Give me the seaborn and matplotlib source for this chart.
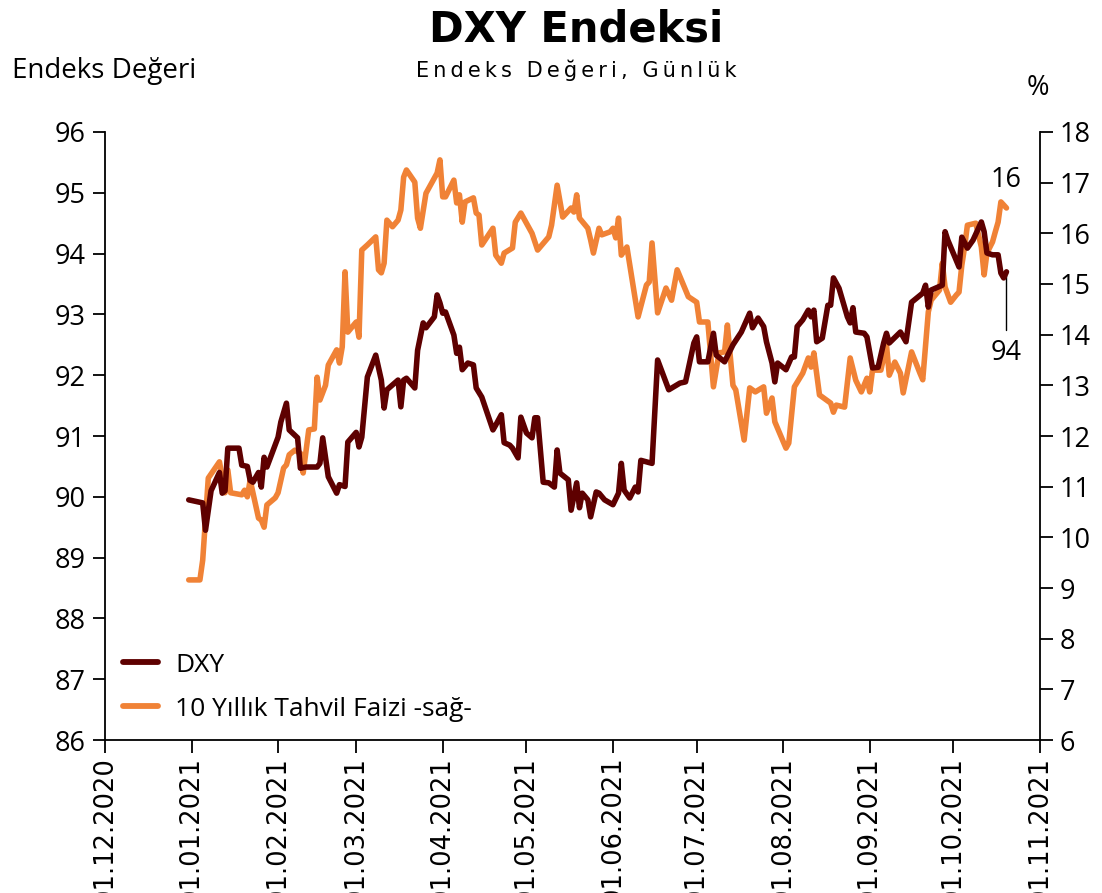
import pandas as pd
import matplotlib
matplotlib.use("Agg")
import matplotlib.pyplot as plt
import matplotlib.dates as mdates
from matplotlib.lines import Line2D
import seaborn as sns

# DXY index, daily
dxy_dates = ["2020-12-31", "2021-01-05", "2021-01-06", "2021-01-08", "2021-01-10", "2021-01-11",
             "2021-01-12", "2021-01-13", "2021-01-14", "2021-01-18", "2021-01-19", "2021-01-21",
             "2021-01-22", "2021-01-23", "2021-01-25", "2021-01-26", "2021-01-27", "2021-01-28",
             "2021-02-01", "2021-02-02", "2021-02-04", "2021-02-05", "2021-02-08", "2021-02-09",
             "2021-02-11", "2021-02-15", "2021-02-16", "2021-02-17", "2021-02-19", "2021-02-22",
             "2021-02-23", "2021-02-25", "2021-02-26", "2021-03-01", "2021-03-02", "2021-03-03",
             "2021-03-05", "2021-03-08", "2021-03-10", "2021-03-11", "2021-03-12", "2021-03-16",
             "2021-03-17", "2021-03-18", "2021-03-19", "2021-03-22", "2021-03-23", "2021-03-25",
             "2021-03-26", "2021-03-29", "2021-03-30", "2021-03-31", "2021-04-01", "2021-04-02",
             "2021-04-05", "2021-04-06", "2021-04-07", "2021-04-08", "2021-04-10", "2021-04-12",
             "2021-04-13", "2021-04-15", "2021-04-19", "2021-04-20", "2021-04-22", "2021-04-23",
             "2021-04-25", "2021-04-26", "2021-04-28", "2021-04-29", "2021-05-01", "2021-05-03",
             "2021-05-04", "2021-05-05", "2021-05-07", "2021-05-09", "2021-05-11", "2021-05-12",
             "2021-05-13", "2021-05-16", "2021-05-17", "2021-05-19", "2021-05-20", "2021-05-21",
             "2021-05-23", "2021-05-24", "2021-05-26", "2021-05-27", "2021-05-29", "2021-06-01",
             "2021-06-03", "2021-06-04", "2021-06-05", "2021-06-07", "2021-06-09", "2021-06-10",
             "2021-06-11", "2021-06-15", "2021-06-17", "2021-06-21", "2021-06-25", "2021-06-27",
             "2021-06-30", "2021-07-01", "2021-07-02", "2021-07-05", "2021-07-07", "2021-07-08",
             "2021-07-11", "2021-07-14", "2021-07-17", "2021-07-20", "2021-07-21", "2021-07-23",
             "2021-07-25", "2021-07-26", "2021-07-28", "2021-07-29", "2021-07-30", "2021-08-02",
             "2021-08-04", "2021-08-05", "2021-08-06", "2021-08-08", "2021-08-10", "2021-08-11",
             "2021-08-12", "2021-08-13", "2021-08-15", "2021-08-17", "2021-08-18", "2021-08-19",
             "2021-08-21", "2021-08-24", "2021-08-25", "2021-08-26", "2021-08-27", "2021-08-30",
             "2021-08-31", "2021-09-02", "2021-09-04", "2021-09-06", "2021-09-07", "2021-09-08",
             "2021-09-12", "2021-09-14", "2021-09-16", "2021-09-20", "2021-09-21", "2021-09-22",
             "2021-09-23", "2021-09-27", "2021-09-28", "2021-09-29", "2021-10-03", "2021-10-04",
             "2021-10-06", "2021-10-08", "2021-10-11", "2021-10-12", "2021-10-13", "2021-10-15",
             "2021-10-17", "2021-10-18", "2021-10-19", "2021-10-20"]
dxy_values = [89.95, 89.90, 89.45, 90.10, 90.30, 90.40, 90.06, 90.10, 90.80, 90.80, 90.52, 90.50,
              90.27, 90.24, 90.40, 90.16, 90.65, 90.49, 90.98, 91.23, 91.54, 91.10, 90.97, 90.47,
              90.49, 90.49, 90.55, 90.97, 90.33, 90.06, 90.20, 90.17, 90.90, 91.06, 90.82, 90.98,
              91.97, 92.33, 91.92, 91.46, 91.76, 91.92, 91.48, 91.92, 91.95, 91.79, 92.41, 92.86,
              92.78, 92.96, 93.32, 93.19, 93.02, 93.04, 92.66, 92.36, 92.46, 92.09, 92.20, 92.17,
              91.79, 91.64, 91.10, 91.18, 91.35, 90.89, 90.85, 90.80, 90.64, 91.31, 91.05, 90.97,
              91.30, 91.30, 90.24, 90.23, 90.16, 90.77, 90.39, 90.28, 89.78, 90.23, 89.82, 90.06,
              89.95, 89.67, 90.08, 90.06, 89.95, 89.87, 90.06, 90.55, 90.11, 89.98, 90.16, 90.08,
              90.60, 90.55, 92.25, 91.76, 91.87, 91.89, 92.53, 92.63, 92.22, 92.22, 92.69, 92.33,
              92.22, 92.50, 92.71, 93.02, 92.78, 92.94, 92.80, 92.55, 92.20, 91.89, 92.20, 92.09,
              92.30, 92.30, 92.80, 92.91, 93.07, 92.96, 93.07, 92.55, 92.61, 93.15, 93.15, 93.60,
              93.43, 92.96, 92.86, 93.11, 92.71, 92.69, 92.63, 92.12, 92.13, 92.53, 92.69, 92.53,
              92.71, 92.55, 93.20, 93.35, 93.48, 93.12, 93.40, 93.48, 94.36, 94.22, 93.78, 94.27,
              94.09, 94.22, 94.52, 94.36, 94.01, 93.98, 93.98, 93.68, 93.60, 93.70]

# 10-year bond yield, % (right axis)
yield_dates = ["2020-12-31", "2021-01-04", "2021-01-05", "2021-01-07", "2021-01-11", "2021-01-13",
               "2021-01-14", "2021-01-15", "2021-01-19", "2021-01-20", "2021-01-21", "2021-01-22",
               "2021-01-25", "2021-01-26", "2021-01-27", "2021-01-28", "2021-01-31", "2021-02-01",
               "2021-02-03", "2021-02-04", "2021-02-05", "2021-02-07", "2021-02-09", "2021-02-10",
               "2021-02-12", "2021-02-14", "2021-02-15", "2021-02-16", "2021-02-18", "2021-02-19",
               "2021-02-22", "2021-02-23", "2021-02-24", "2021-02-25", "2021-02-26", "2021-03-01",
               "2021-03-02", "2021-03-03", "2021-03-05", "2021-03-08", "2021-03-09", "2021-03-10",
               "2021-03-11", "2021-03-12", "2021-03-14", "2021-03-16", "2021-03-17", "2021-03-18",
               "2021-03-19", "2021-03-22", "2021-03-23", "2021-03-24", "2021-03-26", "2021-03-29",
               "2021-03-30", "2021-03-31", "2021-04-01", "2021-04-02", "2021-04-05", "2021-04-06",
               "2021-04-07", "2021-04-08", "2021-04-09", "2021-04-12", "2021-04-13", "2021-04-14",
               "2021-04-15", "2021-04-19", "2021-04-20", "2021-04-22", "2021-04-23", "2021-04-26",
               "2021-04-27", "2021-04-29", "2021-05-03", "2021-05-05", "2021-05-09", "2021-05-10",
               "2021-05-12", "2021-05-14", "2021-05-17", "2021-05-18", "2021-05-19", "2021-05-20",
               "2021-05-23", "2021-05-24", "2021-05-25", "2021-05-27", "2021-05-28", "2021-05-31",
               "2021-06-01", "2021-06-02", "2021-06-03", "2021-06-04", "2021-06-06", "2021-06-10",
               "2021-06-13", "2021-06-14", "2021-06-15", "2021-06-17", "2021-06-20", "2021-06-22",
               "2021-06-24", "2021-06-28", "2021-07-01", "2021-07-02", "2021-07-05", "2021-07-07",
               "2021-07-09", "2021-07-11", "2021-07-12", "2021-07-14", "2021-07-15", "2021-07-18",
               "2021-07-20", "2021-07-22", "2021-07-25", "2021-07-26", "2021-07-28", "2021-07-29",
               "2021-08-02", "2021-08-03", "2021-08-05", "2021-08-08", "2021-08-10", "2021-08-11",
               "2021-08-12", "2021-08-14", "2021-08-18", "2021-08-19", "2021-08-20", "2021-08-23",
               "2021-08-25", "2021-08-27", "2021-08-29", "2021-08-31", "2021-09-01", "2021-09-02",
               "2021-09-05", "2021-09-07", "2021-09-08", "2021-09-10", "2021-09-12", "2021-09-13",
               "2021-09-16", "2021-09-19", "2021-09-20", "2021-09-22", "2021-09-23", "2021-09-26",
               "2021-09-27", "2021-09-28", "2021-09-30", "2021-10-02", "2021-10-03", "2021-10-04",
               "2021-10-05", "2021-10-06", "2021-10-09", "2021-10-11", "2021-10-12", "2021-10-13",
               "2021-10-15", "2021-10-16", "2021-10-17", "2021-10-18", "2021-10-20"]
yield_values = [9.16, 9.16, 9.55, 11.17, 11.49, 10.88, 11.33, 10.88, 10.84, 10.93, 10.80, 11.13,
                10.38, 10.34, 10.20, 10.64, 10.78, 10.88, 11.37, 11.43, 11.63, 11.72, 11.66, 11.27,
                12.12, 12.14, 13.16, 12.71, 13.00, 13.40, 13.70, 13.44, 13.76, 15.24, 14.05, 14.25,
                13.95, 15.67, 15.77, 15.93, 15.28, 15.22, 15.41, 16.26, 16.13, 16.26, 16.46, 17.11,
                17.25, 17.01, 16.30, 16.10, 16.79, 17.09, 17.19, 17.45, 16.72, 16.72, 17.05, 16.60,
                16.76, 16.22, 16.62, 16.70, 16.40, 16.36, 15.77, 16.10, 15.57, 15.41, 15.61, 15.71,
                16.22, 16.40, 16.00, 15.67, 15.93, 16.16, 16.95, 16.32, 16.50, 16.42, 16.76, 16.30,
                16.10, 15.87, 15.61, 16.10, 15.97, 16.03, 16.10, 15.91, 16.30, 15.57, 15.73, 14.35,
                14.98, 15.04, 15.81, 14.43, 14.92, 14.68, 15.28, 14.75, 14.64, 14.25, 14.25, 12.97,
                13.64, 13.66, 14.19, 13.00, 12.91, 11.92, 12.95, 12.87, 12.97, 12.45, 12.75, 12.28,
                11.76, 11.86, 12.97, 13.24, 13.54, 13.36, 13.64, 12.81, 12.65, 12.47, 12.61, 12.57,
                13.54, 13.10, 12.87, 13.14, 12.87, 13.30, 13.30, 13.80, 13.20, 13.46, 13.24, 12.85,
                13.66, 13.24, 13.11, 14.45, 14.68, 14.88, 15.41, 14.94, 14.64, 14.78, 14.84, 15.37,
                15.73, 16.16, 16.20, 15.73, 15.18, 15.61, 15.83, 16.03, 16.22, 16.62, 16.50]

dxy_color = "#5e0000"
yield_color = "#f08236"

sns.set_style("ticks")
plt.rcParams["font.family"] = ["Open Sans", "DejaVu Sans"]
plt.rcParams["text.color"] = "black"
plt.rcParams["xtick.color"] = "black"
plt.rcParams["ytick.color"] = "black"

dxy_df = pd.DataFrame({"date": pd.to_datetime(dxy_dates), "value": dxy_values})
yld_df = pd.DataFrame({"date": pd.to_datetime(yield_dates), "value": yield_values})

fig = plt.figure(figsize=(11.02, 8.93), dpi=100)
ax = fig.add_axes([0.0953, 0.1713, 0.8484, 0.6809])
ax2 = ax.twinx()

sns.lineplot(data=dxy_df, x="date", y="value", ax=ax, color=dxy_color, lw=4.0, zorder=3)
sns.lineplot(data=yld_df, x="date", y="value", ax=ax2, color=yield_color, lw=4.0)
ax.set_zorder(ax2.get_zorder() + 1)
ax.patch.set_visible(False)

ax.set_xlim(pd.Timestamp("2020-12-01"), pd.Timestamp("2021-11-01"))
ax.set_ylim(86, 96)
ax.set_yticks(range(86, 97))
ax2.set_ylim(6, 18)
ax2.set_yticks(range(6, 19))
ax.xaxis.set_major_locator(mdates.MonthLocator())
ax.xaxis.set_major_formatter(mdates.DateFormatter("%d.%m.%Y"))

ax.set_xlabel("")
ax.set_ylabel("")
ax2.set_ylabel("")
for a in (ax, ax2):
    a.spines["top"].set_visible(False)
    for s in ("left", "right", "bottom"):
        a.spines[s].set_color("black")
        a.spines[s].set_linewidth(1.3)
ax.spines["right"].set_visible(False)
ax2.spines["left"].set_visible(False)
ax2.spines["bottom"].set_visible(False)

ax.tick_params(axis="y", labelsize=19.5, length=9, width=1.3, direction="out", pad=5)
ax2.tick_params(axis="y", labelsize=19.5, length=9, width=1.3, direction="out", pad=5)
ax.tick_params(axis="x", length=9, width=1.3, direction="out", pad=3)
for lab in ax.get_xticklabels():
    lab.set_rotation(90)
    lab.set_fontfamily("DejaVu Sans")
    lab.set_fontsize(18.5)
    lab.set_va("top")

# end-point labels
last_x = dxy_df["date"].iloc[-1]
ax.plot([last_x, last_x], [93.65, 92.75], color="black", lw=1)
ax.text(last_x, 92.6, "94", ha="center", va="top", fontsize=19.5)
ax2.text(yld_df["date"].iloc[-1], 16.78, "16", ha="center", va="bottom", fontsize=19.5)

handles = [Line2D([], [], color=dxy_color, lw=4.2, solid_capstyle="round"),
           Line2D([], [], color=yield_color, lw=4.2, solid_capstyle="round")]
ax.legend(handles, ["DXY", "10 Yıllık Tahvil Faizi -sağ-"], loc="lower left",
          bbox_to_anchor=(0.0, 0.0), frameon=False, fontsize=19, handlelength=1.3,
          handletextpad=0.65, labelspacing=0.72, borderaxespad=0.3, borderpad=0.4)

fig.text(0.523, 0.990, "DXY Endeksi", ha="center", va="top", fontsize=30,
         fontweight="bold", family="DejaVu Sans")
sub = "\u2009".join("Endeks Değeri, Günlük")
fig.text(0.523, 0.921, sub, ha="center", va="center", fontsize=15,
         family="DejaVu Sans")
fig.text(0.011, 0.920, "Endeks Değeri", ha="left", va="center", fontsize=20)
fig.text(0.942, 0.902, "%", ha="center", va="center", fontsize=19.5)

fig.savefig("out.png", dpi=100)
